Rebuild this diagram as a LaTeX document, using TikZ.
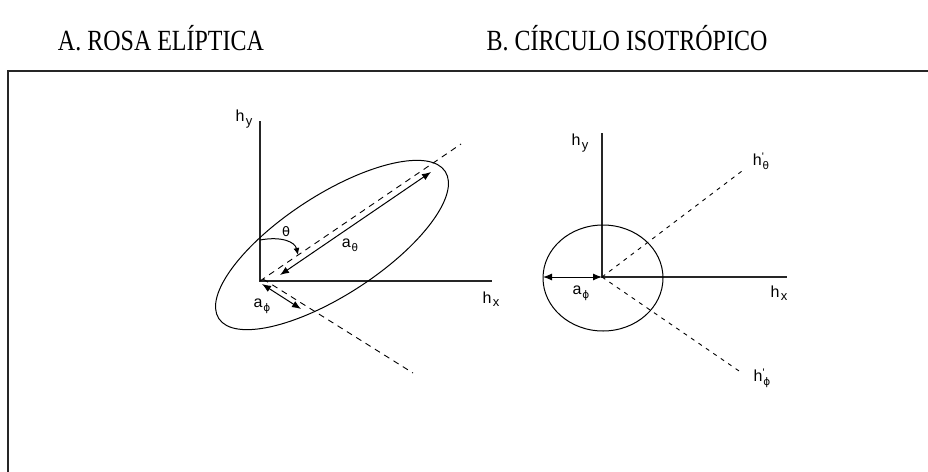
\documentclass[tikz,border=0pt]{standalone}
\usepackage{fontspec}
\setmainfont{Liberation Serif}
\newfontfamily\labfont{Liberation Sans}
\newfontfamily\grkfont{DejaVu Sans}
\usetikzlibrary{arrows.meta}
\newcommand{\labH}[1]{{\fontsize{16}{16}\selectfont h}\kern1.5pt\raisebox{-3.5pt}{\fontsize{13}{13}\selectfont #1}}
\newcommand{\labG}[2]{{\fontsize{16}{16}\selectfont #1}\kern0.8pt\raisebox{-4pt}{\grkfont\fontsize{10.5}{10.5}\selectfont #2}}
\newcommand{\labP}[1]{{\fontsize{16}{16}\selectfont h}\rlap{\raisebox{5pt}{\fontsize{11}{11}\selectfont '}}\kern0.8pt\raisebox{-4pt}{\grkfont\fontsize{10.5}{10.5}\selectfont #1}}
\newcommand{\ttl}[1]{\scalebox{1}[1.22]{#1}}
\begin{document}
\begin{tikzpicture}[x=1pt,y=-1pt,
  title/.style={font=\fontsize{24}{24}\selectfont, anchor=base, inner sep=0pt},
  lab/.style={font=\labfont, inner sep=0pt},
  frameline/.style={line width=1.5pt, black!85},
  axis/.style={line width=1.2pt, black!85},
  curve/.style={line width=1pt, black},
  dashA/.style={line width=0.9pt, dash pattern=on 6pt off 5pt},
  dashB/.style={line width=0.9pt, dash pattern=on 4pt off 5pt},
  dim/.style={line width=1pt, {Latex[length=9pt,width=7pt]}-{Latex[length=9pt,width=7pt]}},
  arcarrow/.style={line width=1pt, -{Latex[length=7pt,width=6pt]}}
]
\useasboundingbox (0,0) rectangle (928,471);
\clip (0,0) rectangle (928,471);

% titles
\node[title] (tA) at (161,50) {\ttl{A. ROSA ELÍPTICA}};
\node[title] (tB) at (627,50) {\ttl{B. CÍRCULO ISOTRÓPICO}};

% frame
\coordinate (F1) at (8,480);
\coordinate (F2) at (8,71);
\coordinate (F3) at (940,71);
\draw[frameline] (F1) -- (F2) -- (F3);

% ---------- A: elliptical rose ----------
\coordinate (O1) at (260,281);
\coordinate (Y1) at (260,121);
\coordinate (X1) at (492,281);
\draw[axis] (Y1) -- (O1) -- (X1);

\coordinate (EC) at (332,245);
\draw[curve, rotate around={33:(EC)}] (EC) ellipse [x radius=135pt, y radius=50pt];

\coordinate (D1) at (461,144);
\draw[dashA] (O1) -- (D1);
\coordinate (D2s) at (263,279);
\coordinate (D2) at (413,373);
\draw[dashA] (D2s) -- (D2);

\coordinate (AT1) at (280,275);
\coordinate (AT2) at (431,172);
\draw[dim] (AT1) -- (AT2);
\coordinate (AP1) at (262,284);
\coordinate (AP2) at (301,309);
\draw[dim] (AP1) -- (AP2);

\coordinate (TH1) at (260,240);
\coordinate (TH2) at (298,255);
\draw[arcarrow] (TH1) .. controls (282,236) and (295,242) .. (TH2);

\node[lab] (hy1) at (244,119) {\labH{y}};
\node[lab] (hx1) at (491,299) {\labH{x}};
\node[lab, font=\grkfont\fontsize{13}{13}\selectfont] (th) at (286,232) {θ};
\node[lab] (ath) at (350,245) {\labG{a}{θ}};
\node[lab] (aph1) at (262,306) {\labG{a}{ϕ}};

% ---------- B: isotropic circle ----------
\coordinate (O2) at (602,277);
\coordinate (Y2) at (602,133);
\coordinate (X2) at (787,277);
\draw[axis] (Y2) -- (O2) -- (X2);
\coordinate (CC) at (603,278);
\draw[curve] (CC) ellipse [x radius=60pt, y radius=53pt];

\coordinate (CL) at (543,277);
\draw[dim] (CL) -- (O2);

\coordinate (E1) at (742,171);
\coordinate (E2) at (742,373);
\draw[dashB] (O2) -- (E1);
\draw[dashB] (O2) -- (E2);

\node[lab] (hy2) at (580,143) {\labH{y}};
\node[lab] (hx2) at (779,293) {\labH{x}};
\node[lab] (aph2) at (581,293) {\labG{a}{ϕ}};
\node[lab] (hth) at (761,161) {\labP{θ}};
\node[lab] (hph) at (762,378) {\labP{ϕ}};
\end{tikzpicture}
\end{document}
